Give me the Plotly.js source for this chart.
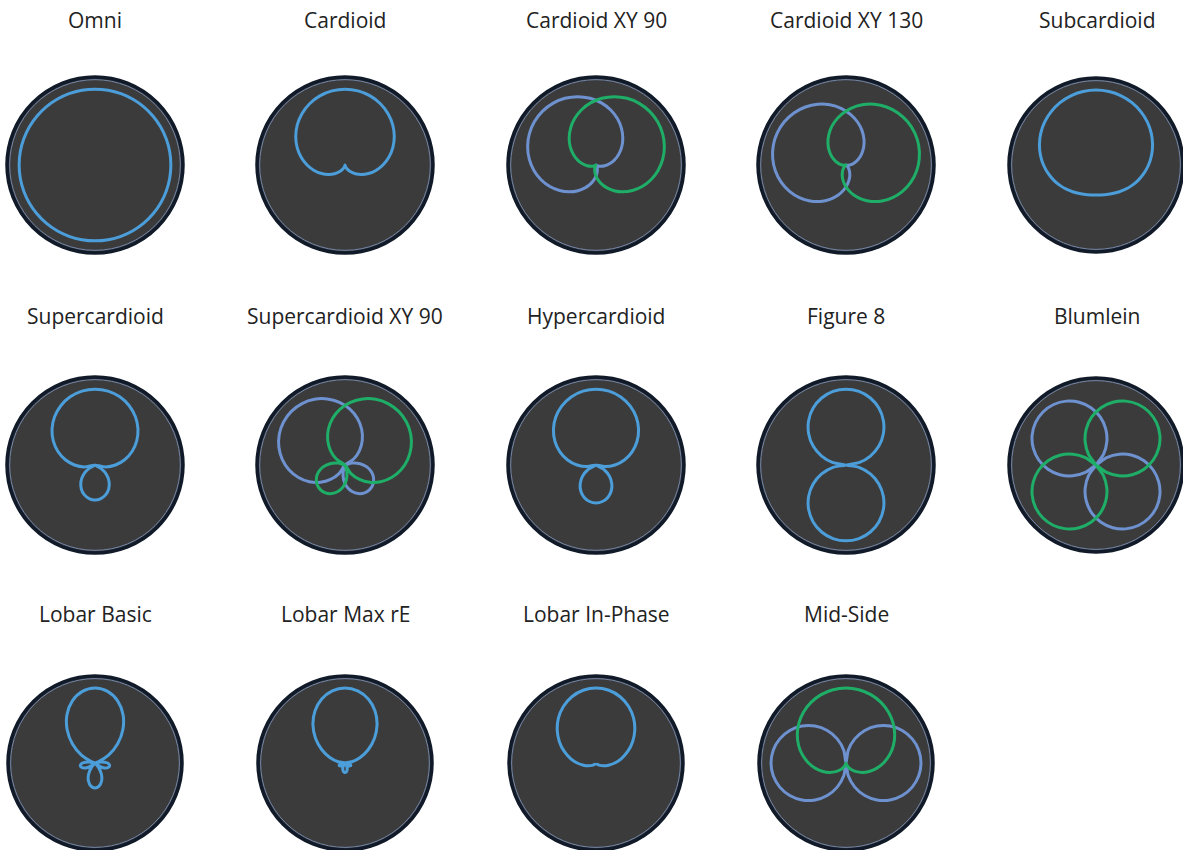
<!DOCTYPE html>
<html><head><meta charset="utf-8">
<script src="https://cdn.plot.ly/plotly-3.0.1.min.js"></script>
<style>html,body{margin:0;padding:0;background:#fff}#chart{width:1183px;height:850px}</style>
</head><body><div id="chart"></div>
<script>
// ---- data ----
const titles = ['Omni','Cardioid','Cardioid XY 90','Cardioid XY 130','Subcardioid',
  'Supercardioid','Supercardioid XY 90','Hypercardioid','Figure 8','Blumlein',
  'Lobar Basic','Lobar Max rE','Lobar In-Phase','Mid-Side'];

// half patterns, 0..180 degrees from the aim direction (mirrored for the other side)
const stdTheta = [0,10,20,30,40,50,60,70,80,90,100,110,120,130,140,150,160,170,180];
const omniR = [1,1,1,1,1,1,1,1,1,1,1,1,1,1,1,1,1,1,1];
const cardioidR = [1,.9924,.9698,.9330,.8830,.8214,.75,.6710,.5868,.5,.4132,.3290,.25,.1786,.1170,.0670,.0302,.0076,0];
const subcardioidR = [1,.9954,.9819,.9598,.9298,.8928,.85,.8026,.7521,.7,.6479,.5974,.55,.5072,.4702,.4402,.4181,.4046,.4];
const figure8R = [1,.9848,.9397,.8660,.7660,.6428,.5,.3420,.1736,0,.1736,.3420,.5,.6428,.7660,.8660,.9397,.9848,1];
const superTheta = [0,10,20,30,40,50,60,70,80,90,100,111.7,120,130,140,150,160,170,180];
const superR = [1,.9889,.9560,.9022,.8292,.7392,.635,.5197,.3967,.27,.1433,0,.095,.1992,.2892,.3622,.4160,.4489,.46];
const hyperTheta = [0,10,20,30,40,50,60,70,80,90,100,109.5,120,130,140,150,160,170,180];
const hyperR = [1,.9886,.9548,.8995,.8245,.7321,.625,.5065,.3802,.25,.1198,0,.125,.2321,.3245,.3995,.4548,.4886,.5];
const basicTheta = [0,10,20,30,40,50,60,70,73.1,80,90,100,110,120,130,133.6,140,150,160,170,180];
const basicR = [1,.9698,.8824,.7470,.5777,.3919,.2083,.0448,0,.0837,.1667,.1994,.1832,.125,.0366,0,.067,.1697,.2559,.3132,.3333];
const maxReTheta = [0,10,20,30,40,50,60,70,80,90,100,110,120,130,140.8,150,160,170,180];
const maxReR = [1,.9764,.9077,.8007,.6651,.5134,.3592,.2152,.0928,0,.0588,.0834,.0775,.0479,0,.0444,.0872,.1164,.1268];
const inPhaseR = [1,.9849,.9405,.8705,.7797,.6747,.5625,.4502,.3443,.25,.1707,.1082,.0625,.0319,.0137,.0045,.0009,.0001,0];

// which patterns each chart shows and where each one is aimed (degrees, + = left)
const plotPatterns = [['omni'],['cardioid'],['cardioid','cardioid'],['cardioid','cardioid'],['subcardioid'],
  ['supercardioid'],['supercardioid','supercardioid'],['hypercardioid'],['figure8'],['figure8','figure8'],
  ['lobarBasic'],['lobarMaxRE'],['lobarInPhase'],['figure8','cardioid']];
const plotAims = [[0],[0],[45,-45],[65,-65],[0],
  [0],[45,-45],[0],[0],[45,-45],
  [0],[0],[0],[90,0]];

const shapes = {
  omni:{t:stdTheta,r:omniR}, cardioid:{t:stdTheta,r:cardioidR}, subcardioid:{t:stdTheta,r:subcardioidR},
  figure8:{t:stdTheta,r:figure8R}, supercardioid:{t:superTheta,r:superR}, hypercardioid:{t:hyperTheta,r:hyperR},
  lobarBasic:{t:basicTheta,r:basicR}, lobarMaxRE:{t:maxReTheta,r:maxReR}, lobarInPhase:{t:stdTheta,r:inPhaseR}
};

// ---- layout / style ----
const W = 1183, H = 850;
const colX = [95,345,596,846,1097];
const rowY = [165,465,764];
const titleY = [20,316,614];
const HALF = 88;
const SINGLE_BLUE = '#4b9ed9', PAIR_COLORS = ['#6e92d0','#1fae68'];
const FONT = '"Open Sans", "Noto Sans", sans-serif';

function fullCurve(shape, aim){
  const t = shape.t, r = shape.r;
  const th = [], rr = [];
  for (let i=0;i<t.length;i++){ th.push(t[i]+aim); rr.push(r[i]); }
  for (let i=t.length-2;i>=0;i--){ th.push(360-t[i]+aim); rr.push(r[i]); }
  return {th, rr};
}

const data = [];
const layout = {width:W,height:H,margin:{l:0,r:0,t:0,b:0},paper_bgcolor:'#ffffff',
  showlegend:false, annotations:[], dragmode:false};

titles.forEach((title, i) => {
  const col = i % 5, row = Math.floor(i/5);
  const cx = colX[col], cy = rowY[row];
  const key = i === 0 ? 'polar' : 'polar'+(i+1);
  layout[key] = {
    domain:{x:[Math.max(0,(cx-HALF)/W), Math.min(1,(cx+HALF)/W)],
            y:[Math.max(0,1-(cy+HALF)/H), Math.min(1,1-(cy-HALF)/H)]},
    bgcolor:'#3c3b3b',
    radialaxis:{range:[0,1.16],tickvals:[1.125],showticklabels:false,ticks:'',showline:false,
      showgrid:true,gridcolor:'#7286aa',gridwidth:1},
    angularaxis:{rotation:90,direction:'counterclockwise',showgrid:false,showticklabels:false,ticks:'',
      showline:true,linecolor:'#111a28',linewidth:3.5}
  };
  const pats = plotPatterns[i], aims = plotAims[i];
  pats.forEach((p, j) => {
    const c = fullCurve(shapes[p], aims[j]);
    data.push({type:'scatterpolar',mode:'lines',subplot:key,r:c.rr,theta:c.th,
      line:{color: pats.length===1 ? SINGLE_BLUE : PAIR_COLORS[j], width:3, shape:'spline', smoothing:0.8},
      hoverinfo:'skip'});
  });
  layout.annotations.push({text:title,x:cx/W,y:1-titleY[row]/H,xref:'paper',yref:'paper',
    xanchor:'center',yanchor:'middle',showarrow:false,font:{family:FONT,size:21,color:'#222222'}});
});

Plotly.newPlot('chart', data, layout, {staticPlot:true,displayModeBar:false});
</script></body></html>
